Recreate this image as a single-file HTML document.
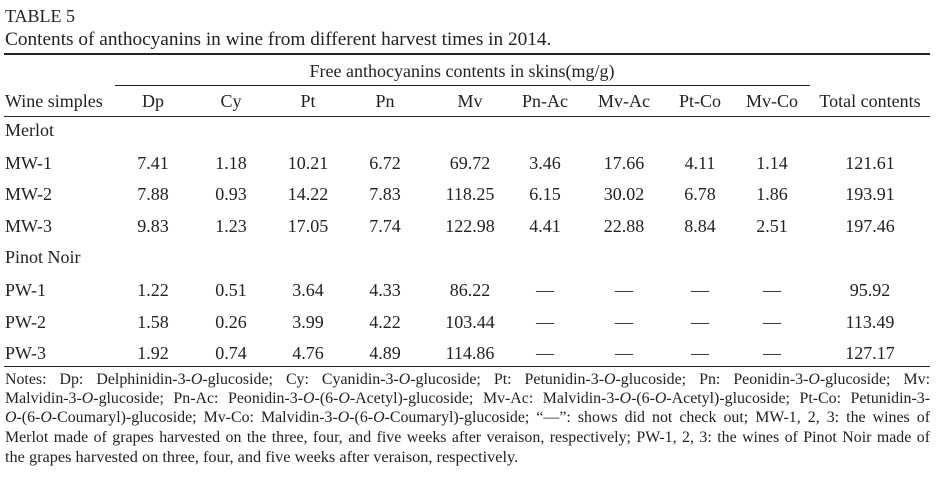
<!DOCTYPE html>
<html><head><meta charset="utf-8">
<style>
body{margin:0;width:949px;height:477px;background:#fff;font-family:"Liberation Serif",serif;color:#222;position:relative;overflow:hidden}
.t{position:absolute;white-space:nowrap;font-size:18px;line-height:20px}
.c{transform:translateX(-50%)}
.ln{position:absolute;background:#222}
#notes{position:absolute;left:5px;top:370px;width:925px;font-size:15.9px;line-height:19.2px}
#notes div{text-align:justify;text-align-last:justify;height:19.2px;overflow:visible}
#notes div.last{text-align-last:left;font-size:16.3px}
</style></head><body>
<div class="t" style="left:5px;top:6px">TABLE 5</div>
<div class="t" style="left:5px;top:30px;font-size:19.3px">Contents of anthocyanins in wine from different harvest times in 2014.</div>
<div class="ln" style="left:4px;top:53px;width:926px;height:2px"></div>
<div class="t c" style="left:462px;top:61px">Free anthocyanins contents in skins(mg/g)</div>
<div class="ln" style="left:115px;top:85px;width:695px;height:1px"></div>
<div class="ln" style="left:4px;top:116px;width:926px;height:1px"></div>
<div class="ln" style="left:4px;top:366px;width:926px;height:1px"></div>
<div id="tbl"></div>
<div id="notes">
<div>Notes: Dp: Delphinidin-3-<i>O</i>-glucoside; Cy: Cyanidin-3-<i>O</i>-glucoside; Pt: Petunidin-3-<i>O</i>-glucoside; Pn: Peonidin-3-<i>O</i>-glucoside; Mv:</div>
<div>Malvidin-3-<i>O</i>-glucoside; Pn-Ac: Peonidin-3-<i>O</i>-(6-<i>O</i>-Acetyl)-glucoside; Mv-Ac: Malvidin-3-<i>O</i>-(6-<i>O</i>-Acetyl)-glucoside; Pt-Co: Petunidin-3-</div>
<div><i>O</i>-(6-<i>O</i>-Coumaryl)-glucoside; Mv-Co: Malvidin-3-<i>O</i>-(6-<i>O</i>-Coumaryl)-glucoside; “—”: shows did not check out; MW-1, 2, 3: the wines of</div>
<div>Merlot made of grapes harvested on the three, four, and five weeks after veraison, respectively; PW-1, 2, 3: the wines of Pinot Noir made of</div>
<div class="last">the grapes harvested on three, four, and five weeks after veraison, respectively.</div>
</div>
<script>
const headers=["Dp","Cy","Pt","Pn","Mv","Pn-Ac","Mv-Ac","Pt-Co","Mv-Co","Total contents"];
const rowLabels=["Merlot","MW-1","MW-2","MW-3","Pinot Noir","PW-1","PW-2","PW-3"];
const values=[null,
["7.41","1.18","10.21","6.72","69.72","3.46","17.66","4.11","1.14","121.61"],
["7.88","0.93","14.22","7.83","118.25","6.15","30.02","6.78","1.86","193.91"],
["9.83","1.23","17.05","7.74","122.98","4.41","22.88","8.84","2.51","197.46"],
null,
["1.22","0.51","3.64","4.33","86.22","—","—","—","—","95.92"],
["1.58","0.26","3.99","4.22","103.44","—","—","—","—","113.49"],
["1.92","0.74","4.76","4.89","114.86","—","—","—","—","127.17"]];
const colX=[153,231,308,385,470,545,624,700,772,870];
const rowY=[120,153,184,216,247,280,312,343];
const tbl=document.getElementById('tbl');
function mk(txt,x,y,center){const d=document.createElement('div');d.className='t'+(center?' c':'');d.textContent=txt;d.style.left=x+'px';d.style.top=y+'px';tbl.appendChild(d);return d;}
let h=mk("Wine simples",5,91,false);


headers.forEach((t,i)=>{const d=mk(t,colX[i],91,true);

});
rowLabels.forEach((r,j)=>{const d=mk(r,5,rowY[j],false);


if(values[j])values[j].forEach((v,i)=>{const c=mk(v,colX[i],rowY[j],true);

});});
</script>
</body></html>
